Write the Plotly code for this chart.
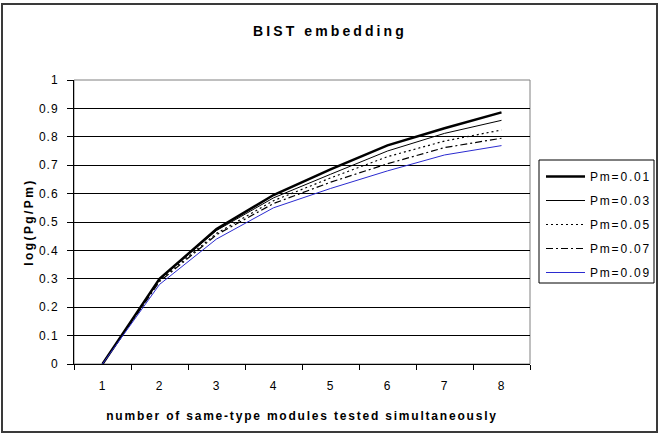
import plotly.graph_objects as go

categories = ["1", "2", "3", "4", "5", "6", "7", "8"]
series_names = ["Pm=0.01", "Pm=0.03", "Pm=0.05", "Pm=0.07", "Pm=0.09"]
pm001 = [0, 0.300, 0.475, 0.595, 0.685, 0.770, 0.830, 0.886]
pm003 = [0, 0.298, 0.470, 0.585, 0.668, 0.750, 0.812, 0.858]
pm005 = [0, 0.295, 0.460, 0.575, 0.655, 0.730, 0.785, 0.824]
pm007 = [0, 0.290, 0.455, 0.565, 0.640, 0.705, 0.762, 0.795]
pm009 = [0, 0.280, 0.440, 0.550, 0.618, 0.680, 0.736, 0.769]
y_ticks = [0, 0.1, 0.2, 0.3, 0.4, 0.5, 0.6, 0.7, 0.8, 0.9, 1]
y_ticktext = ["0", "0.1", "0.2", "0.3", "0.4", "0.5", "0.6", "0.7", "0.8", "0.9", "1"]

FONT = "Liberation Sans, Arial, sans-serif"
W, H = 662, 438
L, R, T, B = 74, 530, 80, 364  # plot area in px


def px_x(v):
    return (v - L) / (R - L)


def px_y(v):
    return (B - v) / (B - T)


styles = [
    dict(color="#000000", width=2.5, dash="solid"),
    dict(color="#000000", width=1, dash="solid"),
    dict(color="#000000", width=1.2, dash="2px,3px"),
    dict(color="#000000", width=1.2, dash="7px,3px,2px,3px"),
    dict(color="#2b2bd0", width=1, dash="solid"),
]

fig = go.Figure()
for name, vals, st in zip(series_names, [pm001, pm003, pm005, pm007, pm009], styles):
    fig.add_trace(go.Scatter(
        x=categories, y=vals, name=name, mode="lines",
        line=st, legendgroup=name,
    ))

fig.update_layout(
    width=W, height=H,
    margin=dict(l=L, r=W - R, t=T, b=H - B, pad=0),
    paper_bgcolor="white", plot_bgcolor="white",
    font=dict(family=FONT, size=12, color="#000000"),
    title=dict(text="<b>BIST embedding</b>", x=px_x(330), xref="paper", xanchor="center",
               y=1 - 31 / H, yanchor="middle", font=dict(size=14, family=FONT)),
    showlegend=True,
    legend=dict(x=px_x(541), y=px_y(162), xanchor="left", yanchor="top",
                bgcolor="rgba(0,0,0,0)", borderwidth=0,
                font=dict(size=12, family=FONT), tracegroupgap=5, itemwidth=39),
    xaxis=dict(type="category", range=[-0.5, 7.5], showgrid=False, showline=True,
               linecolor="black", linewidth=1,
               ticks="outside", tickson="boundaries", ticklen=5, tickcolor="black",
               ticklabelstandoff=11,
               title=dict(text="<b>number of same-type modules tested simultaneously</b>",
                          font=dict(size=12), standoff=19),
               zeroline=False),
    yaxis=dict(range=[0, 1], tickvals=y_ticks, ticktext=y_ticktext, showgrid=True,
               gridcolor="#000000", gridwidth=1, showline=True, linecolor="black",
               linewidth=1, ticks="outside", ticklen=6, tickcolor="black",
               ticklabelstandoff=6, zeroline=False,
               title=dict(text="<b>log(Pg/Pm)</b>", font=dict(size=12), standoff=5)),
    shapes=[
        dict(type="rect", xref="paper", yref="paper", x0=0, y0=0, x1=1, y1=1,
             line=dict(color="#808080", width=1), layer="below"),
        dict(type="rect", xref="paper", yref="paper", x0=px_x(539), y0=px_y(283),
             x1=px_x(654), y1=px_y(160), line=dict(color="#000000", width=1)),
        dict(type="rect", xref="paper", yref="paper", x0=px_x(2), y0=px_y(432),
             x1=px_x(657), y1=px_y(4), line=dict(color="#3a3a3a", width=2)),
    ],
)

post = """
var gd = document.getElementById('{plot_id}');
function sp(sel, v){ gd.querySelectorAll(sel).forEach(function(e){ e.style.letterSpacing = v; }); }
sp('.gtitle', '3.1px');
sp('.g-xtitle text', '1.8px');
sp('.g-ytitle text', '2.4px');
sp('.legendtext', '1.8px');
sp('.xtick text', '1px');
sp('.ytick text', '1px');
gd.querySelectorAll('.legend .scrollbox, .legend').forEach(function(e){ e.removeAttribute('clip-path'); });
gd.querySelectorAll('.legend [clip-path]').forEach(function(e){ e.removeAttribute('clip-path'); });
"""

fig.write_html("out.html", post_script=post)
